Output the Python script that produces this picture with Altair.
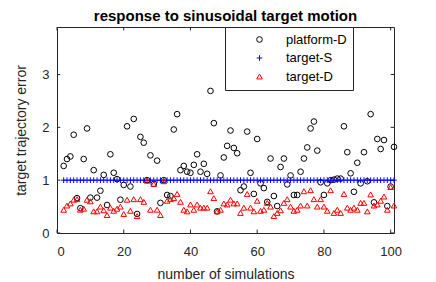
import altair as alt
import pandas as pd

sims = list(range(2, 102))

platform_D = [
    1.27, 1.40, 1.45, 1.86, 0.66, 0.47, 1.40, 1.98, 0.67, 1.19,
    0.67, 0.80, 1.10, 0.53, 1.49, 1.14, 1.02, 0.63, 0.91, 2.02,
    0.88, 2.16, 0.36, 1.82, 1.71, 1.00, 1.47, 0.93, 1.37, 0.57,
    1.00, 0.72, 0.70, 1.96, 2.25, 1.19, 1.27, 1.16, 1.14, 1.29,
    1.49, 1.16, 1.31, 1.12, 2.69, 2.08, 0.41, 1.09, 1.43, 1.65,
    1.94, 1.61, 1.51, 0.81, 0.88, 1.92, 1.14, 0.74, 1.78, 0.94,
    0.85, 0.59, 1.41, 0.70, 0.51, 1.25, 1.41, 0.92, 1.09, 0.72,
    0.72, 1.16, 1.41, 1.62, 1.98, 2.11, 1.56, 0.96, 0.72, 0.94,
    1.00, 1.01, 1.03, 1.03, 2.02, 1.53, 1.13, 0.78, 1.33, 0.94,
    1.53, 0.98, 2.25, 0.58, 1.78, 1.59, 1.76, 0.51, 0.88, 1.63,
]

target_S = [
    1.0, 1.0, 1.0, 1.0, 1.0, 1.0, 1.0, 1.0, 1.0, 1.0,
    1.0, 1.0, 1.0, 1.0, 1.0, 1.0, 1.0, 1.0, 1.0, 1.0,
    1.0, 1.0, 1.0, 1.0, 1.0, 1.0, 1.0, 1.0, 1.0, 1.0,
    1.0, 1.0, 1.0, 1.0, 1.0, 1.0, 1.0, 1.0, 1.0, 1.0,
    1.0, 1.0, 1.0, 1.0, 1.0, 1.0, 1.0, 1.0, 1.0, 1.0,
    1.0, 1.0, 1.0, 1.0, 1.0, 1.0, 1.0, 1.0, 1.0, 1.0,
    1.0, 1.0, 1.0, 1.0, 1.0, 1.0, 1.0, 1.0, 1.0, 1.0,
    1.0, 1.0, 1.0, 1.0, 1.0, 1.0, 1.0, 1.0, 1.0, 1.0,
    1.0, 1.0, 1.0, 1.0, 1.0, 1.0, 1.0, 1.0, 1.0, 1.0,
    1.0, 1.0, 1.0, 1.0, 1.0, 1.0, 1.0, 1.0, 1.0, 1.0,
]

target_D = [
    0.44, 0.52, 0.56, 0.63, 0.64, 0.44, 0.46, 0.63, 0.60, 0.41,
    0.41, 0.50, 0.43, 0.34, 0.48, 0.42, 0.46, 0.50, 0.36, 0.63,
    0.42, 0.64, 0.32, 0.64, 0.59, 0.99, 0.44, 0.93, 0.44, 0.34,
    0.98, 0.61, 0.64, 0.66, 0.74, 0.59, 0.44, 0.41, 0.54, 0.44,
    0.54, 0.48, 0.48, 0.48, 0.79, 0.66, 0.41, 0.44, 0.56, 0.54,
    0.63, 0.56, 0.56, 0.38, 0.48, 0.74, 0.48, 0.41, 0.61, 0.42,
    0.44, 0.57, 0.50, 0.32, 0.38, 0.43, 0.57, 0.64, 0.50, 0.42,
    0.44, 0.52, 0.79, 0.52, 0.81, 0.64, 0.50, 0.64, 0.50, 0.42,
    0.81, 0.38, 0.44, 0.38, 0.74, 0.48, 0.44, 0.48, 0.44, 0.57,
    0.57, 0.41, 0.73, 0.52, 0.54, 0.61, 0.69, 0.44, 0.87, 0.52,
]

series_names = ["platform-D", "target-S", "target-D"]
series_colors = ["#000000", "#0000ff", "#ff0000"]
PLUS = "M-1,0H1M0,-1V1"
series_shapes = ["circle", PLUS, "triangle-up"]

x_ticks = [0, 20, 40, 60, 80, 100]
y_ticks = [0, 1, 2, 3]
x_domain = [0, 101]
y_domain = [0, 3.9]

rows = []
for name, vals in zip(series_names, [platform_D, target_S, target_D]):
    for s, v in zip(sims, vals):
        rows.append({"sim": s, "err": v, "series": name})
df = pd.DataFrame(rows)

FONT = "Liberation Sans"
AX = "#262626"

xs = alt.Scale(domain=x_domain, nice=False, zero=False)
ys = alt.Scale(domain=y_domain, nice=False, zero=False)

points = alt.Chart(df).mark_point(filled=False, strokeWidth=1, size=32, opacity=1).encode(
    x=alt.X("sim:Q", scale=xs,
            axis=alt.Axis(values=x_ticks, title="number of simulations", grid=False,
                          ticks=False, domain=False, tickSize=0, labelPadding=12,
                          titlePadding=9, format="d")),
    y=alt.Y("err:Q", scale=ys,
            axis=alt.Axis(values=y_ticks, title="target trajectory error", grid=False,
                          ticks=False, domain=False, tickSize=0, labelPadding=8,
                          titlePadding=13, format="d")),
    color=alt.Color("series:N", sort=series_names,
                    scale=alt.Scale(domain=series_names, range=series_colors),
                    legend=alt.Legend(title=None, orient="none", legendX=168, legendY=0,
                                      strokeColor=AX, fillColor="white", padding=6,
                                      rowPadding=4.5, symbolOffset=22, labelOffset=20,
                                      symbolStrokeWidth=1, symbolSize=32,
                                      labelFont=FONT, labelFontSize=13, labelColor="#000000",
                                      labelExpr="datum.label + '\u00a0\u00a0\u00a0\u00a0\u00a0\u00a0\u00a0\u00a0\u00a0\u00a0\u00a0\u00a0'")),
    shape=alt.Shape("series:N", sort=series_names,
                    scale=alt.Scale(domain=series_names, range=series_shapes)),
    order=alt.Order("order_key:Q"),
).transform_calculate(
    order_key="indexof(['platform-D','target-S','target-D'], datum.series)"
)

tdf_x = pd.DataFrame({"t": x_ticks})
tdf_y = pd.DataFrame({"t": y_ticks})
tick_len_y = 0.065
tick_len_x = 1.0

bottom_ticks = alt.Chart(tdf_x).mark_rule(color=AX, strokeWidth=1).encode(
    x=alt.X("t:Q", scale=xs), y=alt.datum(y_domain[0], scale=ys), y2=alt.datum(y_domain[0] + tick_len_y))
top_ticks = alt.Chart(tdf_x).mark_rule(color=AX, strokeWidth=1).encode(
    x=alt.X("t:Q", scale=xs), y=alt.datum(y_domain[1] - tick_len_y, scale=ys), y2=alt.datum(y_domain[1]))
left_ticks = alt.Chart(tdf_y).mark_rule(color=AX, strokeWidth=1).encode(
    y=alt.Y("t:Q", scale=ys), x=alt.datum(x_domain[0], scale=xs), x2=alt.datum(x_domain[0] + tick_len_x))
right_ticks = alt.Chart(tdf_y).mark_rule(color=AX, strokeWidth=1).encode(
    y=alt.Y("t:Q", scale=ys), x=alt.datum(x_domain[1] - tick_len_x, scale=xs), x2=alt.datum(x_domain[1]))

chart = alt.layer(bottom_ticks, top_ticks, left_ticks, right_ticks, points).properties(
    width=337, height=206, background="white",
    title=alt.TitleParams("response to sinusoidal target motion", font=FONT, fontSize=15,
                          fontWeight="bold", color="#000000", anchor="middle", offset=3),
    autosize=alt.AutoSizeParams(type="none"),
    padding={"left": 49, "top": 19, "right": 34, "bottom": 48},
).configure_view(stroke=AX, strokeWidth=1).configure_axis(
    labelFont=FONT, labelFontSize=13, labelColor="#262626",
    titleFont=FONT, titleFontSize=14, titleFontWeight="normal", titleColor="#262626",
)

chart.save("out.html", embed_options={"renderer": "svg", "actions": False})
